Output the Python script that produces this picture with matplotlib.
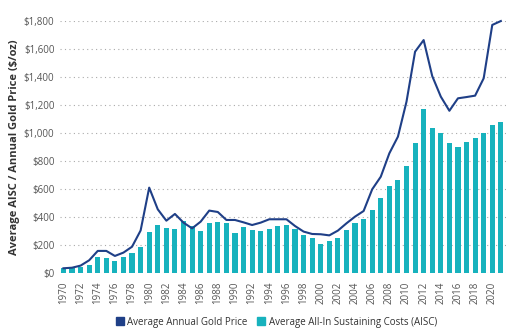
import numpy as np
import matplotlib
matplotlib.use("Agg")
import matplotlib.pyplot as plt
from matplotlib.lines import Line2D
from matplotlib.ticker import FuncFormatter, MultipleLocator

years = list(range(1970, 2022))

# average all-in sustaining costs ($/oz)
aisc = [36, 40, 45, 60, 119, 107, 88, 119, 148, 190,
        295, 343, 321, 319, 376, 340, 300, 360, 364, 357,
        286, 333, 310, 302, 319, 336, 345, 319, 271, 252,
        207, 233, 250, 310, 357, 388, 455, 536, 626, 667,
        769, 929, 1176, 1040, 1000, 931, 904, 936, 969, 1000,
        1057, 1081]

# average annual gold price ($/oz)
gold = [36, 40, 55, 93, 160, 160, 124, 148, 190, 306,
        612, 457, 376, 424, 362, 321, 369, 448, 438, 381,
        381, 364, 345, 362, 386, 386, 386, 338, 298, 281,
        279, 271, 305, 357, 405, 445, 600, 690, 857, 976,
        1226, 1583, 1666, 1409, 1262, 1161, 1250, 1259, 1269, 1393,
        1774, 1802]

line_color = "#1f3f87"
bar_color = "#17b2bd"
text_color = "#555555"

plt.rcParams["font.family"] = ["Open Sans", "DejaVu Sans"]

fig = plt.figure(figsize=(5.15, 3.34), dpi=100)
ax = fig.add_axes([0.1165, 0.1817, 0.866, 0.7545])

ax.bar(years, aisc, width=0.6, color=bar_color, zorder=2)
ax.plot(years, gold, color=line_color, linewidth=1.5, zorder=3, clip_on=False)

ax.set_xlim(1969.6, 2021.6)
ax.set_ylim(0, 1800)
ax.yaxis.set_major_locator(MultipleLocator(200))
ax.yaxis.set_major_formatter(FuncFormatter(lambda v, p: f"${v:,.0f}"))
ax.set_xticks(range(1970, 2021, 2))
ax.tick_params(axis="x", labelrotation=90, labelsize=7, colors=text_color,
               length=0, pad=6)
ax.tick_params(axis="y", labelsize=7, colors=text_color, length=0, pad=4)

ax.grid(axis="y", linestyle=(0, (1, 3)), color="#aaaaaa", linewidth=0.8, zorder=0)
ax.set_axisbelow(True)
for s in ax.spines.values():
    s.set_visible(False)

ax.set_ylabel("Average AISC / Annual Gold Price ($/oz)", fontsize=8,
              fontweight="bold", color="#333333", labelpad=3)

handles = [
    Line2D([], [], marker="s", linestyle="none", markersize=6,
           color=line_color, label="Average Annual Gold Price"),
    Line2D([], [], marker="s", linestyle="none", markersize=6,
           color=bar_color, label="Average All-In Sustaining Costs (AISC)"),
]
fig.legend(handles=handles, loc="center", bbox_to_anchor=(0.537, 0.035),
           ncol=2, frameon=False, fontsize=7, handlelength=0.8,
           handletextpad=0.4, columnspacing=1.0, labelcolor="#333333")

fig.savefig("out.png", dpi=100)
